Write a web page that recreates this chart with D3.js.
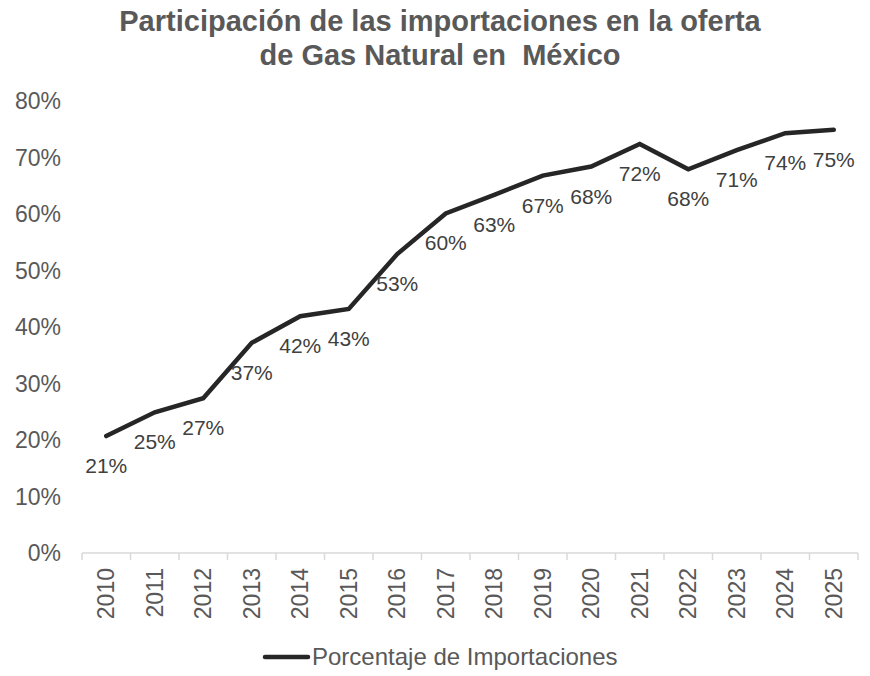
<!DOCTYPE html>
<html><head><meta charset="utf-8">
<script src="https://cdn.jsdelivr.net/npm/d3@7"></script>
<style>
body{margin:0;background:#fff;}
text{font-family:"Liberation Sans",Arial,sans-serif;}
</style></head>
<body><svg id="c" width="870" height="676"></svg>
<script>
const years = ["2010","2011","2012","2013","2014","2015","2016","2017","2018","2019","2020","2021","2022","2023","2024","2025"];
const values = [0.207,0.249,0.274,0.372,0.419,0.432,0.529,0.601,0.634,0.668,0.684,0.724,0.679,0.713,0.743,0.749];
const labels = ["21%","25%","27%","37%","42%","43%","53%","60%","63%","67%","68%","72%","68%","71%","74%","75%"];
const yTicks = [0,0.1,0.2,0.3,0.4,0.5,0.6,0.7,0.8];
const titleLines = ["Participación de las importaciones en la oferta","de Gas Natural en  México"];
const seriesName = "Porcentaje de Importaciones";

const svg = d3.select("#c");
const pL=82, pR=858, pT=101, pB=553;
const x = d3.scaleBand().domain(years).range([pL,pR]);
const y = d3.scaleLinear().domain([0,0.8]).range([pB,pT]);
const grey="#595959";

svg.selectAll("text.title").data(titleLines).enter().append("text")
  .attr("x",440).attr("y",(d,i)=>31+i*34).attr("text-anchor","middle")
  .attr("font-size",29).attr("font-weight","bold").attr("fill",grey).style("white-space","pre").text(d=>d);

// y axis labels
svg.selectAll("text.yl").data(yTicks).enter().append("text")
  .attr("x",61).attr("y",d=>y(d)+8).attr("text-anchor","end")
  .attr("font-size",23).attr("fill",grey).text(d=>d3.format(".0%")(d));

// x axis
const xa = svg.append("g").attr("transform",`translate(0,${pB})`);
xa.append("line").attr("x1",pL).attr("x2",pR).attr("stroke","#d9d9d9").attr("stroke-width",1.5);
const bounds = years.map(d=>x(d)).concat([x(years[years.length-1])+x.bandwidth()]);
xa.selectAll("line.t").data(bounds).enter().append("line")
  .attr("x1",d=>d).attr("x2",d=>d).attr("y1",0).attr("y2",7).attr("stroke","#d9d9d9").attr("stroke-width",1.5);
xa.selectAll("text").data(years).enter().append("text")
  .attr("transform",d=>`translate(${x(d)+x.bandwidth()/2+8},15) rotate(-90)`)
  .attr("text-anchor","end").attr("font-size",23).attr("fill",grey).text(d=>d);

// line
const line = d3.line().x((d,i)=>x(years[i])+x.bandwidth()/2).y(d=>y(d));
svg.append("path").datum(values).attr("d",line).attr("fill","none")
  .attr("stroke","#262626").attr("stroke-width",4.5).attr("stroke-linejoin","miter").attr("stroke-linecap","round");

// data labels
svg.selectAll("text.dl").data(values).enter().append("text")
  .attr("x",(d,i)=>x(years[i])+x.bandwidth()/2).attr("y",d=>y(d)+37)
  .attr("text-anchor","middle").attr("font-size",21).attr("fill","#404040").text((d,i)=>labels[i]);

// legend
svg.append("line").attr("x1",265).attr("x2",308).attr("y1",657).attr("y2",657)
  .attr("stroke","#262626").attr("stroke-width",4.5).attr("stroke-linecap","round");
svg.append("text").attr("x",312).attr("y",665).attr("font-size",24).attr("fill",grey).text(seriesName);
</script></body></html>
